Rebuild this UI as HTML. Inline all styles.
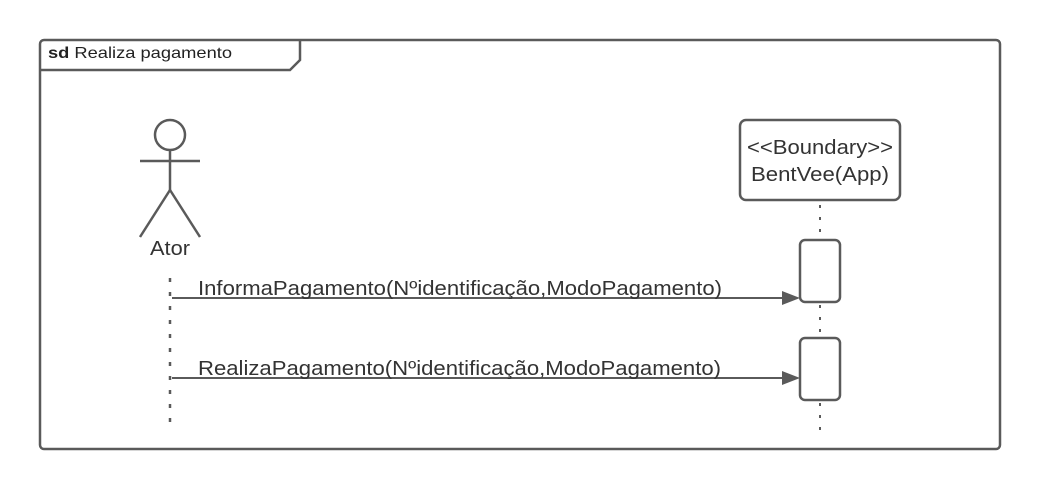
<!DOCTYPE html>
<html><head><style>body{margin:0;background:#fff}svg{display:block}</style></head><body>
<svg width="1040" height="490" xmlns="http://www.w3.org/2000/svg" font-family="Liberation Sans, sans-serif">
<rect x="40" y="40" width="960" height="409" rx="4" fill="#fff" stroke="#5a5a5a" stroke-width="2.5"/>
<path d="M40 70 H290 L300 60 V40" fill="none" stroke="#5a5a5a" stroke-width="2.5"/>
<text x="48" y="58" font-size="16" fill="#222" textLength="184" lengthAdjust="spacingAndGlyphs"><tspan font-weight="bold">sd</tspan> Realiza pagamento</text>
<g stroke="#5a5a5a" stroke-width="2.5" fill="none">
<circle cx="170" cy="135" r="15"/>
<line x1="140" y1="161" x2="200" y2="161"/>
<line x1="170" y1="150" x2="170" y2="190"/>
<line x1="170" y1="190" x2="140" y2="237"/>
<line x1="170" y1="190" x2="200" y2="237"/>
<line x1="170" y1="278" x2="170" y2="428" stroke-dasharray="4 10"/>
<rect x="740" y="120" width="160" height="80" rx="6"/>
<line x1="820" y1="205" x2="820" y2="238" stroke-dasharray="3 9" stroke-width="2"/>
<line x1="820" y1="305" x2="820" y2="336" stroke-dasharray="3 9" stroke-width="2"/>
<line x1="820" y1="403" x2="820" y2="430" stroke-dasharray="3 9" stroke-width="2"/>
<rect x="800" y="240" width="40" height="62" rx="5"/>
<rect x="800" y="338" width="40" height="62" rx="5"/>
<line x1="172" y1="298" x2="785" y2="298" stroke-width="2"/>
<line x1="172" y1="378" x2="785" y2="378" stroke-width="2"/>
</g>
<polygon points="782,291 800,298 782,305" fill="#5a5a5a"/>
<polygon points="782,371 800,378 782,385" fill="#5a5a5a"/>
<text x="150" y="255" font-size="20" fill="#333" textLength="40" lengthAdjust="spacingAndGlyphs">Ator</text>
<text x="747" y="154" font-size="20" fill="#333" textLength="146" lengthAdjust="spacingAndGlyphs">&lt;&lt;Boundary&gt;&gt;</text>
<text x="751" y="181" font-size="20" fill="#333" textLength="138" lengthAdjust="spacingAndGlyphs">BentVee(App)</text>
<text x="198" y="295" font-size="20" fill="#333" textLength="524" lengthAdjust="spacingAndGlyphs">InformaPagamento(Nºidentificação,ModoPagamento)</text>
<text x="198" y="375" font-size="20" fill="#333" textLength="523" lengthAdjust="spacingAndGlyphs">RealizaPagamento(Nºidentificação,ModoPagamento)</text>
</svg>
</body></html>
